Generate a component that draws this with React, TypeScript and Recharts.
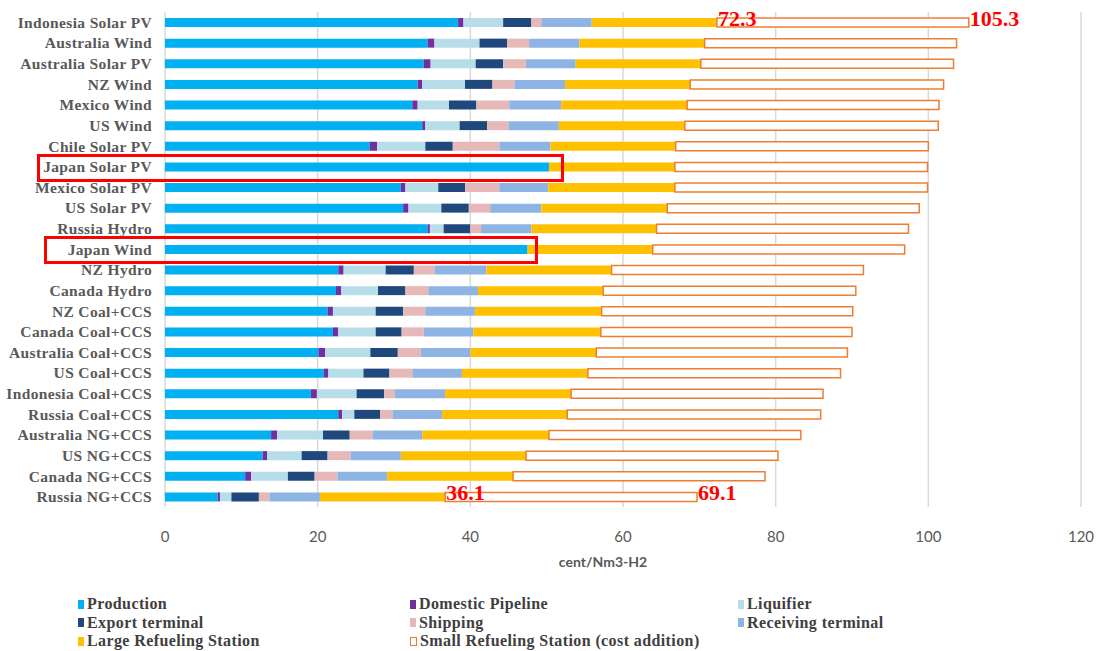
import { BarChart, Bar, XAxis, YAxis, CartesianGrid, LabelList } from 'recharts'

// routes, top to bottom
const routes = [
  'Indonesia Solar PV', 'Australia Wind', 'Australia Solar PV', 'NZ Wind', 'Mexico Wind', 'US Wind',
  'Chile Solar PV', 'Japan Solar PV', 'Mexico Solar PV', 'US Solar PV', 'Russia Hydro', 'Japan Wind',
  'NZ Hydro', 'Canada Hydro', 'NZ Coal+CCS', 'Canada Coal+CCS', 'Australia Coal+CCS', 'US Coal+CCS',
  'Indonesia Coal+CCS', 'Russia Coal+CCS', 'Australia NG+CCS', 'US NG+CCS', 'Canada NG+CCS', 'Russia NG+CCS',
]

// cent/Nm3-H2, one value per route
const production = [38.4, 34.4, 33.9, 33.1, 32.4, 33.7, 26.8, 50.3, 30.9, 31.2, 34.4, 47.5, 22.7, 22.4, 21.3, 22.0, 20.1, 20.8, 19.1, 22.7, 13.9, 12.8, 10.5, 6.9]
const pipeline = [0.7, 0.9, 0.9, 0.6, 0.7, 0.4, 1.0, 0, 0.6, 0.7, 0.3, 0, 0.7, 0.7, 0.7, 0.7, 0.9, 0.6, 0.8, 0.5, 0.8, 0.6, 0.8, 0.3]
const liquifier = [5.2, 5.9, 5.9, 5.6, 4.1, 4.5, 6.3, 0, 4.3, 4.3, 1.8, 0, 5.5, 4.8, 5.6, 4.9, 5.9, 4.6, 5.2, 1.6, 6.0, 4.5, 4.8, 1.5]
const exportTerminal = [3.7, 3.6, 3.6, 3.6, 3.6, 3.6, 3.6, 0, 3.5, 3.6, 3.5, 0, 3.7, 3.6, 3.6, 3.4, 3.6, 3.4, 3.6, 3.4, 3.5, 3.4, 3.5, 3.6]
const shipping = [1.3, 2.9, 3.0, 2.9, 4.3, 2.8, 6.1, 0, 4.5, 2.8, 1.4, 0, 2.7, 3.0, 2.9, 2.9, 3.0, 3.0, 1.4, 1.6, 3.0, 3.0, 3.0, 1.4]
const receiving = [6.6, 6.6, 6.5, 6.6, 6.8, 6.6, 6.7, 0, 6.4, 6.7, 6.6, 0, 6.8, 6.5, 6.5, 6.5, 6.5, 6.5, 6.6, 6.5, 6.5, 6.6, 6.5, 6.6]
const largeStation = [16.4, 16.4, 16.4, 16.4, 16.5, 16.5, 16.4, 16.5, 16.6, 16.5, 16.4, 16.4, 16.4, 16.4, 16.6, 16.7, 16.5, 16.5, 16.5, 16.4, 16.6, 16.4, 16.5, 16.4]
const smallStation = [33.0, 33.0, 33.1, 33.2, 33.0, 33.2, 33.1, 33.1, 33.1, 33.0, 33.0, 33.0, 33.0, 33.1, 32.9, 32.9, 32.9, 33.1, 33.0, 33.2, 33.0, 33.0, 33.0, 33.0]

// red callouts written on the original
const largeCallouts: Record<string, string> = { 'Indonesia Solar PV': '72.3', 'Russia NG+CCS': '36.1' }
const smallCallouts: Record<string, string> = { 'Indonesia Solar PV': '105.3', 'Russia NG+CCS': '69.1' }

const xTicks = [0, 20, 40, 60, 80, 100, 120]

const series = [
  { key: 'production', name: 'Production', color: '#00B0F0', values: production },
  { key: 'pipeline', name: 'Domestic Pipeline', color: '#7030A0', values: pipeline },
  { key: 'liquifier', name: 'Liquifier', color: '#B7DEE8', values: liquifier },
  { key: 'exportTerminal', name: 'Export terminal', color: '#1F497D', values: exportTerminal },
  { key: 'shipping', name: 'Shipping', color: '#E6B9B8', values: shipping },
  { key: 'receiving', name: 'Receiving terminal', color: '#8DB4E2', values: receiving },
  { key: 'largeStation', name: 'Large Refueling Station', color: '#FFC000', values: largeStation },
]

const data = routes.map((name, i) => {
  const row: Record<string, any> = { name, smallStation: smallStation[i] }
  series.forEach((s) => (row[s.key] = s.values[i]))
  return row
})

const serif = '"Liberation Serif", "DejaVu Serif", serif'
const sans = 'Lato, "Liberation Sans", sans-serif'

const callout = (labels: Record<string, string>) => (props: any) => {
  const { x, y, width, height, index } = props
  const text = labels[routes[index]]
  if (!text) return null
  return (
    <text x={x + width + 1} y={y + height / 2 + 3} fill="#FF0000" fontFamily={serif} fontWeight="bold" fontSize={22}>
      {text}
    </text>
  )
}

const legendItems = [
  ...series.map((s) => ({ name: s.name, color: s.color, hollow: false })),
  { name: 'Small Refueling Station (cost addition)', color: '#ED7D31', hollow: true },
]

function Legend() {
  const cols = [78, 410, 738]
  return (
    <div style={{ position: 'absolute', left: 0, top: 595, width: 1101 }}>
      {legendItems.map((item, i) => (
        <div
          key={item.name}
          style={{
            position: 'absolute',
            left: cols[i % 3],
            top: Math.floor(i / 3) * 18.5,
            display: 'flex',
            alignItems: 'center',
            fontFamily: serif,
            fontWeight: 'bold',
            fontSize: 16,
            letterSpacing: 0.4,
            color: '#404040',
            whiteSpace: 'nowrap',
          }}
        >
          <span
            style={{
              display: 'inline-block',
              width: item.hollow ? 5 : 6,
              height: item.hollow ? 7 : 9,
              background: item.hollow ? '#fff' : item.color,
              border: item.hollow ? `1.5px solid ${item.color}` : 'none',
              marginRight: 3,
            }}
          />
          {item.name}
        </div>
      ))}
    </div>
  )
}

function Box({ left, top, width, height }: { left: number; top: number; width: number; height: number }) {
  return (
    <div
      style={{ position: 'absolute', left, top, width, height, border: '3px solid #FF0000', boxSizing: 'border-box', pointerEvents: 'none' }}
    />
  )
}

export default function App() {
  return (
    <div style={{ position: 'absolute', left: 0, top: 0, width: 1101, height: 651, background: '#fff' }}>
      <BarChart
        width={1101}
        height={651}
        data={data}
        layout="vertical"
        margin={{ top: 12, right: 20, bottom: 84, left: 0 }}
        barSize={9}
      >
        <CartesianGrid horizontal={false} stroke="#D9D9D9" strokeWidth={1.5} />
        <XAxis
          type="number"
          domain={[0, 120]}
          ticks={xTicks}
          axisLine={false}
          tickLine={false}
          tickMargin={18}
          height={60}
          tick={{ fill: '#595959', fontFamily: sans, fontSize: 15 }}
          label={{
            value: 'cent/Nm3-H2',
            position: 'insideBottom',
            offset: 0,
            dx: -20,
            fill: '#595959',
            fontFamily: sans,
            fontWeight: 'bold',
            fontSize: 14,
          }}
        />
        <YAxis
          type="category"
          dataKey="name"
          width={165}
          axisLine={false}
          tickLine={false}
          tickSize={0}
          tickMargin={13}
          interval={0}
          tick={{ fill: '#595959', fontFamily: serif, fontWeight: 'bold', fontSize: 15.5, letterSpacing: 0.35 }}
        />
        {series.map((s) => (
          <Bar key={s.key} dataKey={s.key} name={s.name} stackId="cost" fill={s.color} isAnimationActive={false}>
            {s.key === 'largeStation' && <LabelList content={callout(largeCallouts)} />}
          </Bar>
        ))}
        <Bar
          dataKey="smallStation"
          name="Small Refueling Station (cost addition)"
          stackId="cost"
          fill="#FFFFFF"
          stroke="#ED7D31"
          strokeWidth={1.5}
          isAnimationActive={false}
        >
          <LabelList content={callout(smallCallouts)} />
        </Bar>
      </BarChart>
      <Box left={37} top={154} width={527} height={28} />
      <Box left={44} top={236} width={494} height={28} />
      <Legend />
    </div>
  )
}
